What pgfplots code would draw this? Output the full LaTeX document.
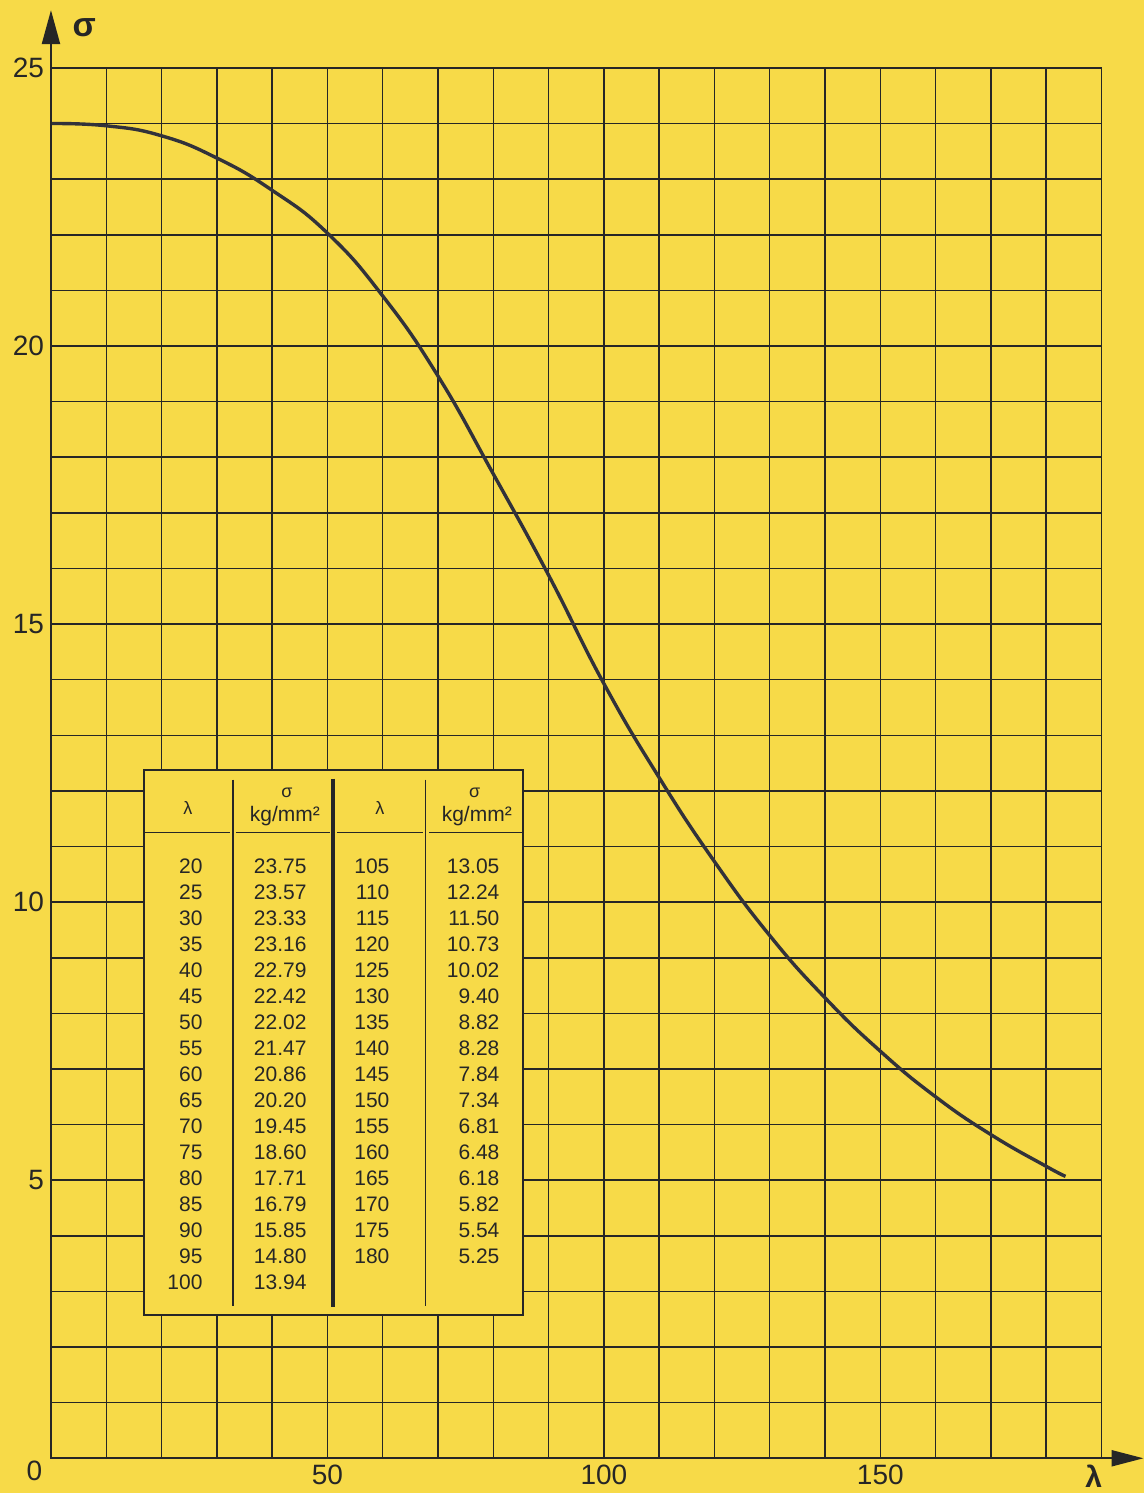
\documentclass[border=0pt]{standalone}
\usepackage{fontspec}
\setmainfont{Liberation Sans}
\usepackage{pgfplots}
\pgfplotsset{compat=1.18}
\usetikzlibrary{arrows.meta}
\definecolor{bg}{RGB}{247,218,72}
\definecolor{ink}{RGB}{38,38,38}
\definecolor{curve}{RGB}{50,50,58}

% curve as drawn, read at the grid lines
\pgfplotstableread{
lambda sigma
0 24.00
10 23.96
20 23.78
30 23.38
40 22.80
50 22.03
60 20.90
70 19.46
80 17.70
90 15.88
100 13.93
110 12.24
120 10.73
130 9.40
140 8.28
150 7.32
160 6.50
170 5.82
180 5.25
183.5 5.07
}\curvedata

\begin{document}
\begin{tikzpicture}
\begin{scope}[shift={(-25.5pt,729.5pt)},x=0.5pt,y=-0.5pt]
\path[use as bounding box,fill=bg] (0,0) rectangle (1145,1494);
\end{scope}
\begin{axis}[
  scale only axis,
  width=525.5pt, height=695.5pt,
  xmin=0, xmax=190, ymin=0, ymax=25,
  enlargelimits=false,
  xtick={50,100,150}, minor xtick={0,10,...,190},
  ytick={5,10,15,20,25}, minor ytick={0,1,...,25},
  grid=both,
  major grid style={ink,line width=0.75pt},
  minor grid style={ink,line width=0.75pt},
  axis line style={ink,line width=0.75pt},
  major tick length=0pt, minor tick length=0pt,
  tick label style={font=\fontsize{14}{16}\selectfont, text=ink},
  /pgf/number format/assume math mode=true,
  clip=false,
]
\addplot[curve, line width=1.7pt, smooth, tension=0.8, no marks] table[x=lambda,y=sigma] {\curvedata};
\draw[ink,line width=1.1pt,-{Triangle[width=9pt,length=17pt]}] (axis cs:0,0) -- (axis cs:0,26.04);
\draw[ink,line width=1.1pt,-{Triangle[width=8pt,length=16pt]}] (axis cs:0,0) -- (axis cs:197.6,0);
\node[font=\fontsize{14}{16}\selectfont,text=ink,xshift=-8.25pt,yshift=-6.5pt] at (axis cs:0,0) {0};
\node[font=\bfseries\fontsize{17}{18}\selectfont,text=ink] at (axis cs:6.0,25.72) {σ};
\node[font=\bfseries\fontsize{15}{16}\selectfont,text=ink] at (axis cs:188.6,-0.32) {λ};
\end{axis}
\begin{scope}[shift={(-25.5pt,729.5pt)},x=0.5pt,y=-0.5pt]
\draw[ink,line width=1pt,fill=bg] (144,770) rectangle (523,1316);
\draw[ink,line width=0.7pt] (233,780) -- (233,1307);
\draw[ink,line width=2pt] (333,779) -- (333,1308);
\draw[ink,line width=0.7pt] (426,780) -- (426,1307);
\draw[ink,line width=0.8pt] (145,833) -- (230,833) (236,833) -- (330,833) (337,833) -- (423,833) (429,833) -- (523,833);
\begin{scope}[every node/.style={inner sep=0pt,text=ink}]
\node[font=\fontsize{9}{10}\selectfont] at (188,808) {λ};
\node[font=\fontsize{9}{10}\selectfont] at (287,793) {σ};
\node[font=\fontsize{10.5}{12}\selectfont] at (285,816) {kg/mm²};
\node[font=\fontsize{9}{10}\selectfont] at (380,808) {λ};
\node[font=\fontsize{9}{10}\selectfont] at (475,793) {σ};
\node[font=\fontsize{10.5}{12}\selectfont] at (477,816) {kg/mm²};
\foreach \v [count=\i from 0] in {20,25,30,35,40,45,50,55,60,65,70,75,80,85,90,95,100}
  \node[anchor=east,font=\fontsize{10.5}{12}\selectfont] at (203,{867+26*\i}) {\v};
\foreach \v [count=\i from 0] in {23.75,23.57,23.33,23.16,22.79,22.42,22.02,21.47,20.86,20.20,19.45,18.60,17.71,16.79,15.85,14.80,13.94}
  \node[anchor=east,font=\fontsize{10.5}{12}\selectfont] at (307,{867+26*\i}) {\v};
\foreach \v [count=\i from 0] in {105,110,115,120,125,130,135,140,145,150,155,160,165,170,175,180}
  \node[anchor=east,font=\fontsize{10.5}{12}\selectfont] at (390,{867+26*\i}) {\v};
\foreach \v [count=\i from 0] in {13.05,12.24,11.50,10.73,10.02,9.40,8.82,8.28,7.84,7.34,6.81,6.48,6.18,5.82,5.54,5.25}
  \node[anchor=east,font=\fontsize{10.5}{12}\selectfont] at (500,{867+26*\i}) {\v};
\end{scope}
\end{scope}
\end{tikzpicture}
\end{document}
